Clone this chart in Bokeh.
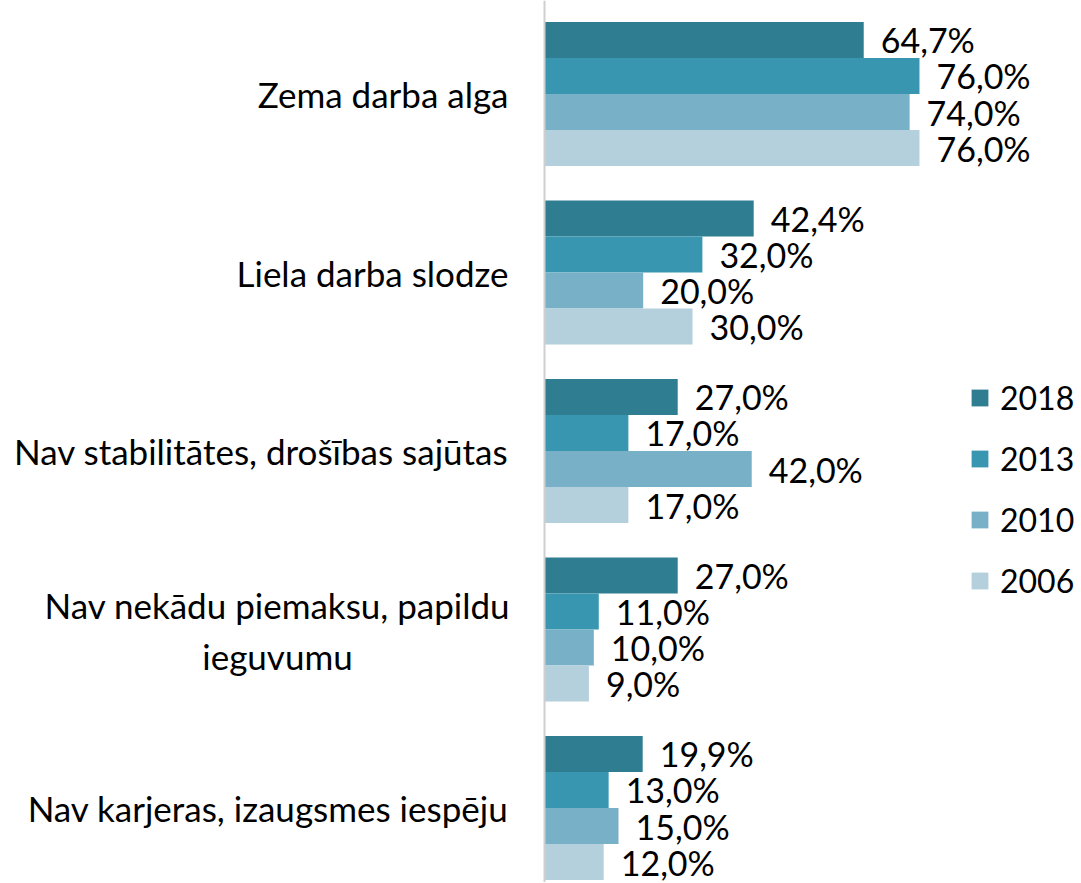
from bokeh.plotting import figure
from bokeh.models import ColumnDataSource, Range1d, Legend, LegendItem, Span
from bokeh.transform import dodge
from bokeh.core.properties import value
from bokeh.embed import file_html
from bokeh.resources import INLINE

categories = [
    "Zema darba alga",
    "Liela darba slodze",
    "Nav stabilitātes, drošības sajūtas",
    "Nav nekādu piemaksu, papildu\nieguvumu",
    "Nav karjeras, izaugsmes iespēju",
]
years = ["2018", "2013", "2010", "2006"]
v2018 = [64.7, 42.4, 27.0, 27.0, 19.9]
v2013 = [76.0, 32.0, 17.0, 11.0, 13.0]
v2010 = [74.0, 20.0, 42.0, 10.0, 15.0]
v2006 = [76.0, 30.0, 17.0, 9.0, 12.0]
series = [v2018, v2013, v2010, v2006]
colors = ["#2E7D91", "#3896B1", "#78B1C7", "#B4D0DC"]

FONT = "Lato"
FS = "34px"
CAT_FS = "35px"
BAR_H = 0.2017
W, H = 1080, 882
LEFT = 544          # pixel position of the value axis (0 %)
PX_PER_UNIT = 4.934  # pixels per percent

p = figure(width=W, height=H, output_backend="svg", toolbar_location=None,
           x_range=Range1d(-LEFT / PX_PER_UNIT, (W - LEFT) / PX_PER_UNIT),
           y_range=Range1d((H - 93.5) / 178.5, -93.5 / 178.5),
           x_axis_location=None, y_axis_location=None,
           min_border_left=0, min_border_right=0,
           min_border_top=0, min_border_bottom=0)
p.outline_line_color = None
p.xgrid.visible = False
p.ygrid.visible = False
p.background_fill_color = "white"

# value axis line
p.add_layout(Span(location=0, dimension="height", line_color="#CFCFCF", line_width=2))

# category labels
single = [i for i, c in enumerate(categories) if "\n" not in c]
multi = [i for i, c in enumerate(categories) if "\n" in c]
cat_single = ColumnDataSource(dict(y=single, t=[categories[i] for i in single],
                                   x=[0] * len(single)))
cat_multi = ColumnDataSource(dict(y=multi, t=[categories[i] for i in multi],
                                  x=[0] * len(multi)))
p.text(x="x", y="y", text="t", source=cat_single, x_offset=-36,
       text_align="right", text_baseline="middle",
       text_font=value(FONT), text_font_size=CAT_FS, text_color="black")
p.text(x="x", y="y", text="t", source=cat_multi, x_offset=-(LEFT - 277), y_offset=1,
       text_align="center", text_baseline="middle", text_line_height=1.22,
       text_font=value(FONT), text_font_size=CAT_FS, text_color="black")

items = []
for j, (yr, vals, col) in enumerate(zip(years, series, colors)):
    off = (-1.5 + j) * BAR_H
    src = ColumnDataSource(dict(
        y=list(range(len(categories))),
        v=vals,
        lab=[f"{x:.1f}".replace(".", ",") + "%" for x in vals],
    ))
    r = p.hbar(y=dodge("y", off, range=p.y_range), right="v", left=0, height=BAR_H,
               source=src, fill_color=col, line_color=None)
    p.text(x="v", y=dodge("y", off, range=p.y_range), text="lab", source=src,
           x_offset=17, text_baseline="middle", text_align="left",
           text_font=value(FONT), text_font_size=FS, text_color="black")
    items.append(LegendItem(label=yr, renderers=[r]))

lh = 40
leg = Legend(items=items, location=(969, H - (580 + lh // 2)),
             glyph_width=21, glyph_height=21, label_height=lh, label_width=60,
             spacing=61 - lh, label_standoff=10, padding=0, margin=0,
             border_line_color=None, background_fill_alpha=0,
             label_text_font=FONT, label_text_font_size="32px",
             label_text_color="black", label_text_baseline="middle")
p.add_layout(leg)

open("out.html", "w").write(file_html(p, INLINE))
